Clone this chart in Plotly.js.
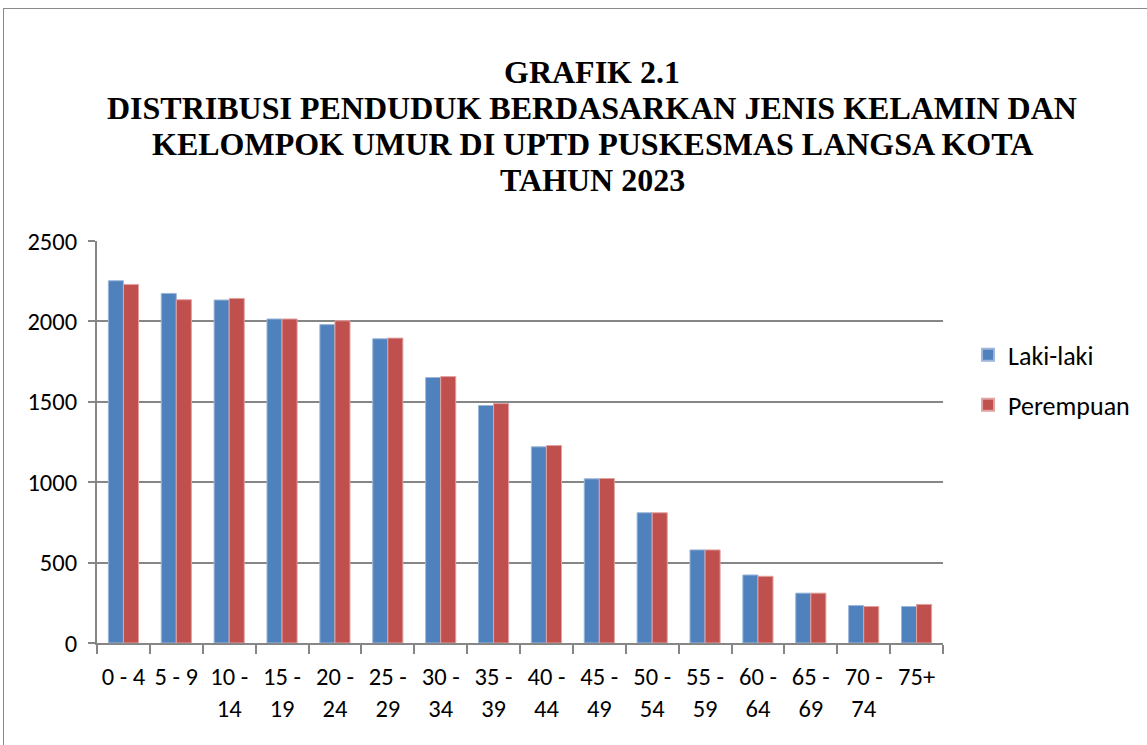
<!DOCTYPE html>
<html>
<head>
<meta charset="utf-8">
<script src="https://cdn.plot.ly/plotly-3.0.1.min.js"></script>
<style>
html,body{margin:0;padding:0;background:#fff;overflow:hidden;}
#wrap{position:relative;width:1147px;height:745px;}
#chart{position:absolute;left:0;top:0;width:1147px;height:745px;}
#frame{position:absolute;left:3px;top:8px;width:1300px;height:900px;border:1.5px solid #8a8a8a;pointer-events:none;}
</style>
</head>
<body>
<div id="wrap">
<div id="frame"></div>
<div id="chart"></div>
</div>
<script>
const categories = ["0 - 4","5 - 9","10 -<br>14","15 -<br>19","20 -<br>24","25 -<br>29","30 -<br>34","35 -<br>39","40 -<br>44","45 -<br>49","50 -<br>54","55 -<br>59","60 -<br>64","65 -<br>69","70 -<br>74","75+"];
const lakiLaki = [2253,2174,2133,2015,1980,1892,1651,1477,1220,1021,810,579,423,310,233,227];
const perempuan = [2230,2135,2143,2015,2004,1896,1657,1489,1228,1023,810,579,415,310,227,240];
const seriesNames = ["Laki-laki","Perempuan"];
const titleLines = ["GRAFIK 2.1","DISTRIBUSI PENDUDUK BERDASARKAN JENIS KELAMIN DAN","KELOMPOK UMUR DI UPTD PUSKESMAS LANGSA KOTA","TAHUN 2023"];

const fam = "Carlito, 'Liberation Sans Narrow', 'Open Sans', sans-serif";
const labelFont = {family: fam, size: 24.5, color: "#000"};

const traces = [
  {type:"bar", name:seriesNames[0], x:categories, y:lakiLaki, legendgroup:"a",
   marker:{color:"#4F81BD", line:{color:"#9DB6DA", width:1}}},
  {type:"bar", name:seriesNames[1], x:categories, y:perempuan, legendgroup:"b",
   marker:{color:"#C0504D", line:{color:"#E0A3A2", width:1}}}
];

const plotTop = 241, plotBottom = 643;
const lineCenters = [72, 108, 144, 180];
const annotations = titleLines.map((t, i) => ({
  text: t, showarrow:false, xref:"paper", yref:"paper",
  x: (592 - 97) / 846, xanchor:"center",
  y: (plotBottom - lineCenters[i]) / (plotBottom - plotTop), yanchor:"middle",
  font:{family:"'Liberation Serif', 'Times New Roman', serif", size:32, color:"#000", weight:"bold"}
}));

const layout = {
  width:1147, height:745,
  paper_bgcolor:"rgba(0,0,0,0)", plot_bgcolor:"rgba(0,0,0,0)",
  margin:{l:97, r:204, t:241, b:102, pad:0},
  barmode:"group", bargap:0.43, bargroupgap:0,
  annotations: annotations,
  xaxis:{type:"category", showline:true, linecolor:"#868686", linewidth:2,
         ticks:"outside", tickson:"boundaries", ticklen:9, tickcolor:"#868686", tickwidth:2,
         tickfont:labelFont, tickangle:0, showgrid:false, ticklabelstandoff:11},
  yaxis:{range:[0,2500], dtick:500, showline:true, linecolor:"#868686", linewidth:2,
         ticks:"outside", ticklen:7, tickcolor:"#868686", tickwidth:2,
         showgrid:true, gridcolor:"#868686", gridwidth:2, zeroline:false,
         tickfont:labelFont, ticklabelstandoff:6},
  legend:{x:1.0296, xanchor:"left", y:0.775, yanchor:"top", font:{family:fam, size:26, color:"#000"},
          traceorder:"grouped", tracegroupgap:13, itemsizing:"constant", bgcolor:"rgba(0,0,0,0)"},
  showlegend:true
};

Plotly.newPlot("chart", traces, layout, {displayModeBar:false, staticPlot:true});
</script>
</body>
</html>
